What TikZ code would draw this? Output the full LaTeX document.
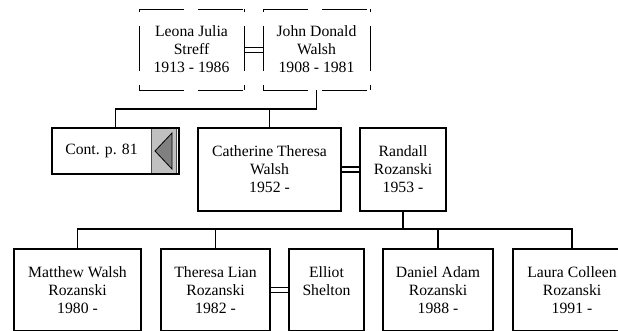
\documentclass[tikz,border=0pt]{standalone}
\usepackage{fontspec}
\setmainfont{Liberation Serif}
\definecolor{boxgrey}{HTML}{C0C0C0}
\definecolor{trigrey}{HTML}{808080}
\tikzset{
  txt/.style={inner sep=0pt, outer sep=0pt, align=center, font=\fontsize{15.7}{18}\selectfont},
  person/.style={txt, draw, line width=1.8pt},
  ghost/.style={txt},
  conn/.style={line width=1.8pt},
  dline/.style={line width=1.6pt},
  thinline/.style={line width=1pt},
  dashside/.style={line width=1pt, dash pattern=on 45pt off 14pt},
  dashvert/.style={dashside, dash phase=42pt}
}
\begin{document}
\begin{tikzpicture}[x=1pt,y=-1pt]
\useasboundingbox (0,0) rectangle (618,330);
\clip (0,0) rectangle (618,330);

% top couple (dashed boxes)
\node[ghost, minimum width=105pt, minimum height=81pt] (leona) at (191.5,49.5) {Leona Julia\\Streff\\1913 - 1986};
\node[ghost, minimum width=107pt, minimum height=81pt] (john) at (316.5,49.5) {John Donald\\Walsh\\1908 - 1981};
\foreach \n in {leona,john}{
  \draw[dashside] (\n.north west) -- (\n.north east);
  \draw[dashside] (\n.south west) -- (\n.south east);
  \draw[dashvert] (\n.north west) -- (\n.south west);
  \draw[dashvert] (\n.north east) -- (\n.south east);
}
\draw[thinline] ([yshift=2.5pt]leona.east) -- ([yshift=2.5pt]john.west);
\draw[thinline] ([yshift=-2.5pt]leona.east) -- ([yshift=-2.5pt]john.west);

% second generation
\node[ghost, minimum width=127pt, minimum height=46pt] (cont) at (115.5,151) {Cont. p. 81\hspace{28pt}};
\fill[boxgrey, draw=black!70, line width=0.6pt] ([xshift=-28pt]cont.north east) rectangle ([xshift=-2.5pt]cont.south east);
\draw[line width=1.8pt] (cont.north west) rectangle (cont.south east);
\filldraw[fill=trigrey, draw=black, line width=0.8pt] ([xshift=-24pt]cont.east) -- ([xshift=-7pt,yshift=18pt]cont.east) -- ([xshift=-7pt,yshift=-18pt]cont.east) -- cycle;

\node[person, minimum width=143pt, minimum height=83pt] (cath) at (269.5,169.5) {Catherine Theresa\\Walsh\\1952 -};
\node[person, minimum width=86pt, minimum height=83pt] (randall) at (403,169.5) {Randall\\Rozanski\\1953 -};
\draw[dline] ([yshift=2.5pt]cath.east) -- ([yshift=2.5pt]randall.west);
\draw[dline] ([yshift=-2.5pt]cath.east) -- ([yshift=-2.5pt]randall.west);

\draw[conn] (john.south) -- ++(0,19) -| (cont.north);
\draw[conn] (cath.north) -- ++(0,-19);

% third generation
\node[person, minimum width=127pt, minimum height=82pt] (matthew) at (77.5,290) {Matthew Walsh\\Rozanski\\1980 -};
\node[person, minimum width=109pt, minimum height=82pt] (theresa) at (215.5,290) {Theresa Lian\\Rozanski\\1982 -};
\node[person, minimum width=75pt, minimum height=82pt] (elliot) at (326.5,290) {Elliot\\Shelton\\\phantom{1}};
\node[person, minimum width=110pt, minimum height=82pt] (daniel) at (438,290) {Daniel Adam\\Rozanski\\1988 -};
\node[person, minimum width=118pt, minimum height=82pt] (laura) at (572,290) {Laura Colleen\\Rozanski\\1991 -};
\draw[dline] ([yshift=2.5pt]theresa.east) -- ([yshift=2.5pt]elliot.west);
\draw[dline] ([yshift=-2.5pt]theresa.east) -- ([yshift=-2.5pt]elliot.west);

\draw[conn] (randall.south) -- ++(0,18);
\draw[conn] (matthew.north) -- ++(0,-20) -| (laura.north);
\draw[conn] (theresa.north) -- ++(0,-20);
\draw[conn] (daniel.north) -- ++(0,-20);
\end{tikzpicture}
\end{document}
